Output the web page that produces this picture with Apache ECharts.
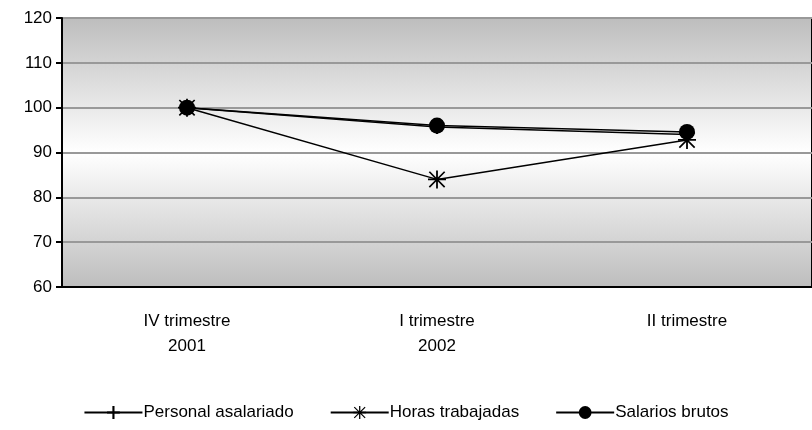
<!DOCTYPE html><html><head><meta charset="utf-8"><script src="https://cdn.jsdelivr.net/npm/echarts@6/dist/echarts.min.js"></script></head><body style="margin:0"><div id="c" style="width:812px;height:430px"></div><script>
const categories=['IV trimestre\n2001','I trimestre\n2002','II trimestre'];
const personal=[100,95.7,94];
const horas=[100,84,92.8];
const salarios=[100,96,94.6];
const plus='path://M5,0H7V12H5ZM0,5H12V7H0Z';
const star='path://M5.4,0H6.6V12H5.4ZM0,5.4H12V6.6H0ZM1.3,0.5L11.5,10.7L10.7,11.5L0.5,1.3ZM10.7,0.5L11.5,1.3L1.3,11.5L0.5,10.7Z';
const ch=echarts.init(document.getElementById('c'));
const F='Liberation Sans';
const mk=(name,data,sym,size)=>({name,type:'line',data,symbol:sym,symbolSize:size,lineStyle:{color:'#000',width:1.5},itemStyle:{color:'#000'},z:name==='Salarios brutos'?5:3});
ch.setOption({
animation:false,
grid:{left:62,right:-6,top:18,bottom:143,show:true,borderWidth:2,borderColor:'#000',backgroundColor:{type:'linear',x:0,y:0,x2:0,y2:1,colorStops:[{offset:0,color:'#bdbdbd'},{offset:0.5,color:'#ffffff'},{offset:1,color:'#bdbdbd'}]}},
legend:{bottom:4,left:'center',itemGap:36,itemWidth:58,itemHeight:16,textStyle:{fontFamily:F,fontSize:17,color:'#000',padding:[0,0,0,-4]},
data:['Personal asalariado','Horas trabajadas','Salarios brutos']},
xAxis:{type:'category',data:categories,boundaryGap:true,axisLine:{lineStyle:{color:'#000',width:2}},axisTick:{lineStyle:{color:'#000',width:2},length:6},axisLabel:{fontFamily:F,fontSize:17,color:'#000',margin:22,lineHeight:25}},
yAxis:{type:'value',min:60,max:120,interval:10,axisLine:{show:true,lineStyle:{color:'#000',width:2}},axisTick:{show:true,lineStyle:{color:'#000',width:2},length:6},splitLine:{lineStyle:{color:'#999',width:2}},axisLabel:{fontFamily:F,fontSize:17,color:'#000',margin:10}},
series:[
mk('Personal asalariado',personal,plus,14),
mk('Horas trabajadas',horas,star,18),
mk('Salarios brutos',salarios,'circle',16)
]});
</script></body></html>
